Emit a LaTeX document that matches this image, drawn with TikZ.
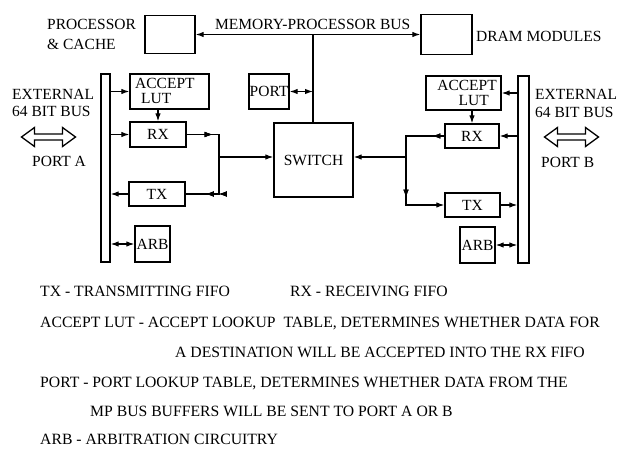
\documentclass[tikz,border=0pt]{standalone}
\usepackage{fontspec}
\setmainfont{Liberation Serif}
\usetikzlibrary{arrows.meta,decorations.markings}
\tikzset{
  box/.style={draw, line width=1.3pt, inner sep=0pt},
  lbl/.style={font=\fontsize{15.5}{15.5}\selectfont, inner sep=0pt},
  note/.style={font=\fontsize{15.7}{15.7}\selectfont, inner sep=0pt, anchor=base west},
  wire/.style={line width=1.2pt},
  arr/.style={-{Latex[length=8pt,width=5.5pt]}},
  darr/.style={{Latex[length=8pt,width=5.5pt]}-{Latex[length=8pt,width=5.5pt]}},
  marrow/.style={postaction={decorate}, decoration={markings, mark=at position #1 with {\arrow{Latex[length=8pt,width=5.5pt]}}}},
  hollow/.style={draw, line width=1.3pt, line join=miter}
}
\begin{document}
\begin{tikzpicture}[x=1pt,y=-1pt]
\useasboundingbox (0,0) rectangle (619,449);
% top
\node[box, minimum width=50pt, minimum height=38pt] (proc) at (170,34.5) {};
\node[box, minimum width=51pt, minimum height=40pt] (dram) at (446.5,34.5) {};
\node[lbl, anchor=base west] (proct1) at (47,30) {PROCESSOR};
\node[lbl, anchor=base west] (proct2) at (47,50) {\& CACHE};
\node[lbl, anchor=base west] (bust) at (215,30) {MEMORY-PROCESSOR BUS};
\node[lbl, anchor=base west] (dramt) at (476,42) {DRAM MODULES};
\coordinate (busj) at (313,34.5);
\draw[wire, darr] (proc.east) -- (dram.west);
% switch & port
\node[box, minimum width=79pt, minimum height=74pt, lbl] (switch) at (313.5,160) {SWITCH};
\node[box, minimum width=40pt, minimum height=35pt] (port) at (269,91.5) {};
\node[lbl, anchor=base west] (portt) at (249.5,97) {PORT};
\draw[wire] (busj) -- (switch.north -| busj);
\draw[wire, darr] (port.east) -- (port.east -| busj);
% left side
\node[box, minimum width=9pt, minimum height=188pt] (barL) at (105.5,168) {};
\node[box, minimum width=79pt, minimum height=35pt] (lutL) at (169.5,91.5) {};
\node[lbl, anchor=base west] (lutLt1) at (135,89) {ACCEPT};
\node[lbl, anchor=base west] (lutLt2) at (141,104) {LUT};
\node[box, minimum width=56pt, minimum height=25pt, lbl] (rxL) at (158,134.5) {RX};
\node[box, minimum width=56pt, minimum height=24pt, lbl] (txL) at (157,194) {TX};
\node[box, minimum width=35pt, minimum height=36pt, lbl] (arbL) at (152.5,244) {ARB};
\draw[wire, arr] (barL.east |- lutL.west) -- (lutL.west);
\draw[wire, arr] (barL.east |- rxL.west) -- (rxL.west);
\draw[wire, arr] (lutL.south -| rxL.north) -- (rxL.north);
\coordinate (cL1) at (219,134.5);
\coordinate (cL2) at (219,194);
\coordinate (jL) at (219,157);
\draw[wire, marrow=26pt, marrow=92pt, marrow=105pt] (rxL.east) -- (cL1) -- (cL2) -- (txL.east);
\draw[wire, arr] (jL) -- (switch.west |- jL);
\draw[wire, arr] (txL.west) -- (barL.east |- txL.west);
\draw[wire, darr] (arbL.west) -- (barL.east |- arbL.west);
% right side
\node[box, minimum width=11pt, minimum height=187pt] (barR) at (523.5,169.5) {};
\node[box, minimum width=75pt, minimum height=34pt] (lutR) at (463.5,93) {};
\node[lbl, anchor=base east] (lutRt1) at (497,91) {ACCEPT};
\node[lbl, anchor=base east] (lutRt2) at (489,106) {LUT};
\node[box, minimum width=54pt, minimum height=24pt, lbl] (rxR) at (472,136) {RX};
\node[box, minimum width=55pt, minimum height=24pt, lbl] (txR) at (472.5,205) {TX};
\node[box, minimum width=35pt, minimum height=36pt, lbl] (arbR) at (477.5,245) {ARB};
\draw[wire, arr] (barR.west |- lutR.east) -- (lutR.east);
\draw[wire, arr] (barR.west |- rxR.east) -- (rxR.east);
\draw[wire, arr] (lutR.south -| rxR.north) -- (rxR.north);
\coordinate (cR1) at (406,136);
\coordinate (cR2) at (406,205);
\coordinate (jR) at (406,157);
\draw[wire, marrow=12pt, marrow=100pt, arr] (rxR.west) -- (cR1) -- (cR2) -- (txR.west);
\draw[wire, arr] (jR) -- (switch.east |- jR);
\draw[wire, arr] (txR.east) -- (barR.west |- txR.east);
\draw[wire, darr] (arbR.east) -- (barR.west |- arbR.east);
% external bus labels
\node[lbl, anchor=base west] (extAt1) at (12,100) {EXTERNAL};
\node[lbl, anchor=base west] (extAt2) at (12,117) {64 BIT BUS};
\node[lbl, anchor=base west] (portA) at (32,167) {PORT A};
\node[lbl, anchor=base west] (extBt1) at (535,100) {EXTERNAL};
\node[lbl, anchor=base west] (extBt2) at (535,118) {64 BIT BUS};
\node[lbl, anchor=base west] (portB) at (541,168) {PORT B};
\coordinate (extA) at (48.5,137);
\coordinate (extB) at (571.5,137);
\foreach \c in {extA,extB}{
  \draw[hollow, shift={(\c)}] (-27,0) -- (-14,-9.5) -- (-14,-3) -- (14,-3) -- (14,-9.5) -- (27,0) -- (14,9.5) -- (14,3) -- (-14,3) -- (-14,9.5) -- cycle;
}
% legend
\node[note] (n1) at (40,297) {TX - TRANSMITTING FIFO};
\node[note] (n2) at (290,297) {RX - RECEIVING FIFO};
\node[note] (n3) at (40,327) {ACCEPT LUT - ACCEPT LOOKUP\ \ TABLE, DETERMINES WHETHER DATA FOR};
\node[note] (n4) at (175,357) {A DESTINATION WILL BE ACCEPTED INTO THE RX FIFO};
\node[note] (n5) at (40,387) {PORT - PORT LOOKUP TABLE, DETERMINES WHETHER DATA FROM THE};
\node[note] (n6) at (90,416) {MP BUS BUFFERS WILL BE SENT TO PORT A OR B};
\node[note] (n7) at (40,444) {ARB - ARBITRATION CIRCUITRY};
\end{tikzpicture}
\end{document}
